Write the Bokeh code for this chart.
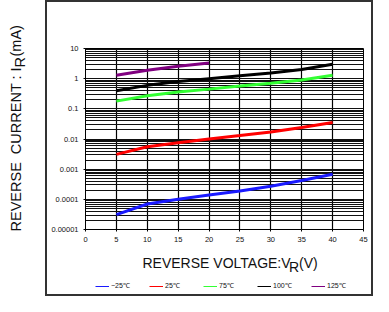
import math
from bokeh.plotting import figure
from bokeh.layouts import row, column
from bokeh.models import Range1d, FixedTicker, Label, Legend, LegendItem
from bokeh.embed import file_html
from bokeh.resources import INLINE

# ---- data ----
voltage = [5, 10, 15, 20, 25, 30, 35, 40]
ir_m25 = [3.1e-5, 7.0e-5, 1.0e-4, 1.4e-4, 1.9e-4, 2.7e-4, 4.2e-4, 6.8e-4]
ir_25 = [0.0031, 0.0055, 0.0075, 0.010, 0.013, 0.017, 0.024, 0.035]
ir_75 = [0.18, 0.27, 0.36, 0.45, 0.57, 0.70, 0.90, 1.3]
ir_100 = [0.40, 0.60, 0.80, 1.0, 1.25, 1.55, 2.0, 3.0]
voltage_125 = [5, 10, 15, 20]
ir_125 = [1.3, 1.9, 2.6, 3.3]

series_labels = ["\u221225\u2103", "25\u2103", "75\u2103", "100\u2103", "125\u2103"]
series_colors = ["#1a1aff", "#ff0000", "#33ff33", "#000000", "#800080"]

x_ticks = [0, 5, 10, 15, 20, 25, 30, 35, 40, 45]
y_ticks = [1e-5, 1e-4, 1e-3, 1e-2, 1e-1, 1, 10]
y_tick_labels = ["0.00001", "0.0001", "0.001", "0.01", "0.1", "1", "10"]

FONT = "Liberation Sans"
TXT = "#111111"

data = [(voltage, ir_m25), (voltage, ir_25), (voltage, ir_75), (voltage, ir_100), (voltage_125, ir_125)]

# ---- main chart ----
MAIN_W, MAIN_H = 324, 247
p = figure(width=MAIN_W, height=MAIN_H, output_backend="svg", toolbar_location=None,
           y_axis_type="log", x_range=Range1d(0, 45), y_range=Range1d(1e-5, 10),
           min_border_left=38, min_border_right=8, min_border_top=46, min_border_bottom=20)
p.background_fill_color = "white"
p.border_fill_color = "white"
p.outline_line_color = "black"
p.outline_line_width = 1

p.xaxis.ticker = FixedTicker(ticks=x_ticks)
minor = [k * 10.0 ** d for d in range(-5, 1) for k in range(2, 10)]
p.yaxis.ticker = FixedTicker(ticks=y_ticks, minor_ticks=minor)
p.yaxis.major_label_overrides = {t: s for t, s in zip(y_ticks, y_tick_labels)}
for ax in (p.xaxis[0], p.yaxis[0]):
    ax.major_label_text_font = FONT
    ax.major_label_text_font_size = "7.5px"
    ax.major_label_text_color = TXT
    ax.major_tick_in = 0
    ax.major_tick_out = 2
    ax.major_tick_line_color = "black"
    ax.minor_tick_line_color = None
    ax.axis_line_color = "black"
p.yaxis.major_label_standoff = 3
p.xaxis.major_label_standoff = 5

p.xgrid.grid_line_color = "black"
p.xgrid.grid_line_width = 1.2
p.ygrid.grid_line_color = TXT
p.ygrid.grid_line_width = 1
p.ygrid.minor_grid_line_color = TXT
p.ygrid.minor_grid_line_width = 1

for (xs, ys), c in zip(data, series_colors):
    p.line(xs, ys, line_color=c, line_width=3)

# ---- bottom panel: x title + legend (its frame is aligned with the main frame) ----
BOT_W, BOT_H = 324, 45
b = figure(width=BOT_W, height=BOT_H, output_backend="svg", toolbar_location=None,
           x_range=Range1d(0, 1), y_range=Range1d(0, 1),
           x_axis_location=None, y_axis_location=None,
           min_border_left=0, min_border_right=0, min_border_top=0, min_border_bottom=0)
b.grid.visible = False
b.outline_line_color = None
b.background_fill_color = "white"
b.border_fill_color = "white"

items = []
for (xs, ys), c, lab in zip(data, series_colors, series_labels):
    # same series drawn thin for the legend key; its data lies outside this panel's ranges
    proxy = b.line(xs, ys, line_color=c, line_width=1)
    items.append(LegendItem(label=lab, renderers=[proxy]))
legend = Legend(items=items, orientation="horizontal", location=(10, 4),
                label_text_font=FONT, label_text_font_size="7px", label_text_color=TXT,
                glyph_width=14, glyph_height=8, label_standoff=2, spacing=18,
                padding=0, margin=0, border_line_color=None, background_fill_alpha=0,
                label_height=8)
b.add_layout(legend, "center")

def bl(x, y, text):
    b.add_layout(Label(x=x, y=y, x_units="screen", y_units="screen", text=text,
                       text_font=FONT, text_font_size="14px", text_color=TXT,
                       text_baseline="alphabetic", text_align="left"))

bl(57, 32, "REVERSE VOLTAGE:V")
bl(203.5, 28, "R")
bl(213.5, 32, "(V)")

# ---- left panel: rotated y title ----
Y_W, Y_H = 45, 296
yl = figure(width=Y_W, height=Y_H, output_backend="svg", toolbar_location=None,
            x_range=Range1d(0, 1), y_range=Range1d(0, 1),
            x_axis_location=None, y_axis_location=None,
            min_border_left=0, min_border_right=0, min_border_top=0, min_border_bottom=0)
yl.grid.visible = False
yl.outline_line_color = None
yl.background_fill_color = "white"
yl.border_fill_color = "white"

def yt(x, y, text):
    yl.add_layout(Label(x=x, y=y, x_units="screen", y_units="screen", angle=math.pi / 2,
                        text=text, text_font=FONT, text_font_size="14.5px", text_color=TXT,
                        text_baseline="alphabetic", text_align="left"))

yt(15.5, 65, "REVERSE\u00a0\u00a0CURRENT : I")
yt(19.5, 229, "R")
yt(15.5, 240, "(mA)")

box = column(p, b, styles={"border": "2px solid #333333"})
layout = row(yl, box)

open("out.html", "w").write(file_html(layout, INLINE))
